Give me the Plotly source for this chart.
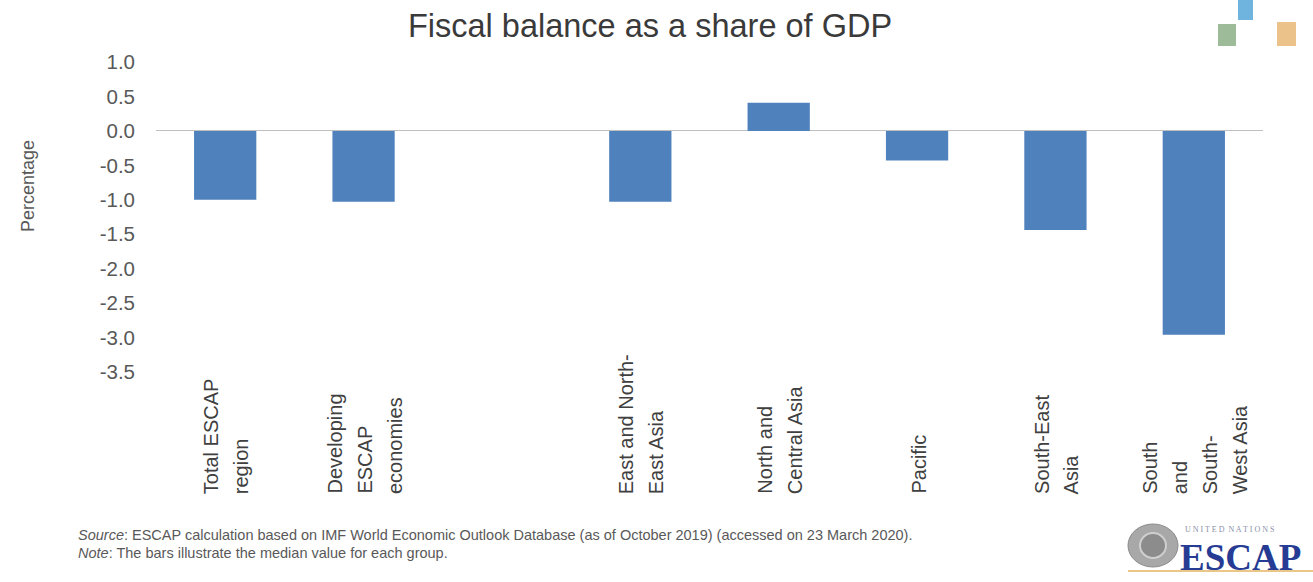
import plotly.graph_objects as go

# ---- data ----
categories = ["Total ESCAP region", "Developing ESCAP economies", " ",
              "East and North-East Asia", "North and Central Asia", "Pacific",
              "South-East Asia", "South and South-West Asia"]
label_lines = [["Total ESCAP", "region"], ["Developing", "ESCAP", "economies"], [],
               ["East and North-", "East Asia"], ["North and", "Central Asia"], ["Pacific"],
               ["South-East", "Asia"], ["South", "and", "South-", "West Asia"]]
values = [-1.00, -1.03, None, -1.03, 0.41, -0.43, -1.44, -2.96]
tick_vals = [1.0, 0.5, 0.0, -0.5, -1.0, -1.5, -2.0, -2.5, -3.0, -3.5]
tick_text = ["1.0", "0.5", "0.0", "-0.5", "-1.0", "-1.5", "-2.0", "-2.5", "-3.0", "-3.5"]

W, H = 1313, 582
L, R, T, B = 156, 50, 62, 210
PW, PH = W - L - R, H - T - B


def px(x):
    return (x - L) / PW


def py(y):
    return (H - B - y) / PH


FONT = "Arial, Liberation Sans, sans-serif"
GREY = "#595959"
LINE_STEP = 30

fig = go.Figure()
fig.add_trace(go.Bar(x=categories, y=values, marker_color="#4F81BD",
                     marker_line_width=0, showlegend=False))

annotations = []
for cat, lines in zip(categories, label_lines):
    n = len(lines)
    for i, line in enumerate(lines):
        annotations.append(dict(x=cat, xref="x", y=py(496), yref="paper", text=line,
                                textangle=-90, xanchor="center", yanchor="bottom",
                                xshift=(i - (n - 1) / 2) * LINE_STEP + 1,
                                showarrow=False,
                                font=dict(family=FONT, size=20, color="#404040")))

# y-axis title
annotations.append(dict(x=px(28), y=py(186), xref="paper", yref="paper",
                        text="Percentage", textangle=-90, showarrow=False,
                        xanchor="center", yanchor="middle",
                        font=dict(family=FONT, size=18, color=GREY)))
# footnotes
annotations.append(dict(x=px(76), y=py(535), xref="paper", yref="paper",
                        text="<i>Source</i>: ESCAP calculation based on IMF World Economic Outlook Database (as of October 2019) (accessed on 23 March 2020).",
                        showarrow=False, xanchor="left", yanchor="middle",
                        font=dict(family=FONT, size=14.5, color=GREY)))
annotations.append(dict(x=px(76), y=py(553), xref="paper", yref="paper",
                        text="<i>Note</i>: The bars illustrate the median value for each group.",
                        showarrow=False, xanchor="left", yanchor="middle",
                        font=dict(family=FONT, size=14.5, color=GREY)))
# logo text
annotations.append(dict(x=px(1183), y=py(529), xref="paper", yref="paper",
                        text="U N I T E D  N A T I O N S", showarrow=False,
                        xanchor="left", yanchor="middle",
                        font=dict(family="Liberation Serif, serif", size=8, color="#8A8FA8")))
annotations.append(dict(x=px(1178), y=py(535), xref="paper", yref="paper",
                        text="<b>ESCAP</b>", showarrow=False,
                        xanchor="left", yanchor="top",
                        font=dict(family="Liberation Serif, DejaVu Serif, serif", size=37, color="#263C94")))

shapes = [
    # decorative squares top right
    dict(type="rect", xref="paper", yref="paper", x0=px(1238), x1=px(1253), y0=py(20), y1=py(0),
         fillcolor="#6FB4DF", line_width=0),
    dict(type="rect", xref="paper", yref="paper", x0=px(1218), x1=px(1236), y0=py(46), y1=py(24),
         fillcolor="#9DBB98", line_width=0),
    dict(type="rect", xref="paper", yref="paper", x0=px(1277), x1=px(1296), y0=py(46), y1=py(22),
         fillcolor="#EBC38A", line_width=0),
    # UN emblem
    dict(type="circle", xref="paper", yref="paper", x0=px(1128), x1=px(1178), y0=py(567), y1=py(524),
         fillcolor="#A8A8A8", line=dict(color="#8A8A8A", width=1)),
    dict(type="circle", xref="paper", yref="paper", x0=px(1140), x1=px(1166), y0=py(558), y1=py(533),
         fillcolor="#8C8C8C", line=dict(color="#CFCFCF", width=2)),
    dict(type="line", xref="paper", yref="paper", x0=px(1128), x1=px(1313), y0=py(571), y1=py(571),
         line=dict(color="#E3B360", width=1.5)),
]

fig.update_layout(
    width=W, height=H,
    margin=dict(l=L, r=R, t=T, b=B, pad=0),
    paper_bgcolor="white", plot_bgcolor="white",
    bargap=0.55,
    title=dict(text="Fiscal balance as a share of GDP", x=650 / W, xanchor="center",
               y=1 - 26 / H, yanchor="middle",
               font=dict(family=FONT, size=32.5, color="#3A3A3A")),
    xaxis=dict(type="category", categoryorder="array", categoryarray=categories,
               range=[-0.5, 7.5], showticklabels=False, showgrid=False,
               showline=False, ticks="", zeroline=False),
    yaxis=dict(range=[-3.5, 1.0], tickvals=tick_vals, ticktext=tick_text,
               showgrid=False, showline=False, ticks="",
               zeroline=True, zerolinecolor="#BFBFBF", zerolinewidth=1.3,
               tickfont=dict(family=FONT, size=20.5, color=GREY),
               ticklabelstandoff=20),
    annotations=annotations,
    shapes=shapes,
)

fig.write_html("out.html")
